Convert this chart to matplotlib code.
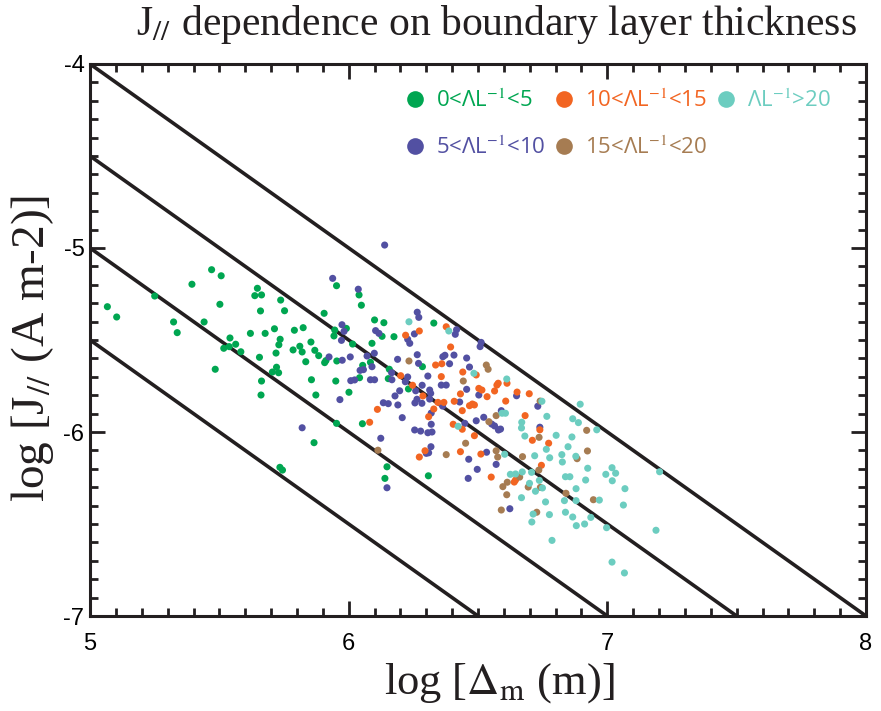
import matplotlib
matplotlib.use("Agg")
import matplotlib.pyplot as plt
from matplotlib.lines import Line2D
from matplotlib.ticker import MultipleLocator

plt.rcParams["axes.unicode_minus"] = False
plt.rcParams["mathtext.fontset"] = "stix"

# log of boundary layer thickness (m) and log of J// (A m-2), grouped by Lambda/L
x_0_5 = [5.067, 5.103, 5.250, 5.470, 5.507, 5.394, 5.323, 5.337, 5.441, 5.502,
         5.541, 5.563, 5.517, 5.538, 5.583, 5.484, 5.647, 5.637, 5.663, 5.659,
         5.737, 5.752, 5.620, 5.677, 5.713, 5.735, 5.730, 5.719, 5.655, 5.721,
         5.705, 5.729, 5.663, 5.661, 5.790, 5.824, 5.785, 5.811, 5.820, 5.854,
         5.869, 5.884, 5.834, 5.856, 5.873, 5.905, 5.953, 5.946, 5.943, 5.991,
         5.907, 5.912, 5.954, 5.950, 6.001, 5.953, 5.866, 5.734, 5.744, 6.040,
         6.049, 6.100, 6.136, 6.329, 6.129, 6.175, 6.015, 6.090, 6.084, 6.054,
         6.042, 6.153, 6.157, 6.285, 6.231, 6.053, 6.308, 6.148, 6.140]
y_0_5 = [-5.319, -5.375, -5.261, -5.118, -5.151, -5.197, -5.402, -5.460, -5.402, -5.306,
         -5.489, -5.523, -5.545, -5.536, -5.564, -5.659, -5.219, -5.259, -5.255, -5.342,
         -5.283, -5.341, -5.464, -5.464, -5.439, -5.496, -5.526, -5.571, -5.594, -5.648,
         -5.674, -5.678, -5.723, -5.799, -5.447, -5.433, -5.554, -5.534, -5.565, -5.511,
         -5.556, -5.585, -5.618, -5.716, -5.799, -5.355, -5.205, -5.446, -5.478, -5.437,
         -5.623, -5.612, -5.614, -5.723, -5.784, -5.953, -6.058, -6.192, -6.207, -5.255,
         -5.311, -5.391, -5.406, -5.408, -5.480, -5.482, -5.522, -5.518, -5.621, -5.638,
         -5.705, -5.710, -5.659, -5.645, -5.766, -5.955, -6.238, -6.189, -6.252]

x_5_10 = [6.139, 5.938, 5.974, 5.982, 5.972, 5.924, 5.975, 6.006, 5.966, 5.820,
          6.008, 6.037, 6.265, 6.271, 6.417, 6.412, 6.104, 6.117, 6.254, 6.228,
          6.236, 6.071, 6.099, 6.090, 6.044, 6.057, 6.023, 6.084, 6.100, 6.167,
          6.166, 6.189, 6.265, 6.270, 6.228, 6.219, 6.259, 6.284, 6.306, 6.390,
          6.364, 6.372, 6.407, 6.456, 6.467, 6.456, 6.358, 6.377, 6.313, 6.317,
          6.313, 6.264, 6.256, 6.283, 6.179, 6.197, 6.134, 6.153, 6.190, 6.363,
          6.319, 6.429, 6.503, 6.508, 6.512, 6.522, 6.553, 6.564, 6.579, 6.493,
          6.449, 6.319, 6.255, 6.278, 6.306, 6.322, 6.124, 6.318, 6.300, 6.309,
          6.464, 6.533, 6.570, 6.497, 6.462, 6.148, 6.649, 6.731, 6.590, 6.587,
          6.739, 6.623, 6.207]
y_5_10 = [-4.984, -5.165, -5.417, -5.453, -5.502, -5.592, -5.610, -5.592, -5.824, -5.977,
          -5.721, -5.224, -5.349, -5.377, -5.444, -5.469, -5.449, -5.464, -5.467, -5.496,
          -5.518, -5.587, -5.572, -5.645, -5.665, -5.661, -5.717, -5.716, -5.716, -5.716,
          -5.678, -5.605, -5.580, -5.627, -5.701, -5.727, -5.776, -5.746, -5.696, -5.629,
          -5.591, -5.583, -5.582, -5.598, -5.647, -5.768, -5.745, -5.745, -5.772, -5.790,
          -5.821, -5.822, -5.842, -5.844, -5.804, -5.776, -5.841, -5.846, -5.853, -5.859,
          -5.897, -5.837, -5.799, -5.536, -5.513, -5.920, -5.957, -5.967, -5.989, -5.939,
          -5.953, -5.958, -5.989, -5.995, -6.004, -6.000, -6.034, -6.080, -6.116, -6.113,
          -6.148, -6.110, -6.176, -6.203, -6.252, -6.303, -5.803, -5.860, -5.884, -5.984,
          -5.974, -6.417, -5.922]

x_10_15 = [6.377, 6.220, 6.273, 6.201, 6.247, 6.336, 6.360, 6.394, 6.441, 6.358,
           6.287, 6.111, 6.345, 6.368, 6.329, 6.309, 6.408, 6.439, 6.467, 6.478,
           6.486, 6.535, 6.503, 6.515, 6.564, 6.573, 6.578, 6.493, 6.404, 6.439,
           6.486, 6.081, 6.432, 6.295, 6.273, 6.511, 6.551, 6.612, 6.651, 6.698,
           6.432, 6.607, 6.739, 6.710, 6.773, 6.745, 6.645, 6.640, 6.682]
y_10_15 = [-5.428, -5.474, -5.451, -5.694, -5.746, -5.636, -5.629, -5.538, -5.674, -5.699,
           -5.804, -5.877, -5.839, -5.839, -5.875, -5.917, -5.833, -5.884, -5.857, -5.848,
           -5.853, -5.808, -5.763, -5.772, -5.777, -5.745, -5.735, -5.690, -5.958, -5.985,
           -6.020, -5.947, -6.107, -6.102, -6.136, -6.120, -6.245, -5.735, -5.783, -5.792,
           -5.793, -5.832, -5.988, -6.045, -6.061, -6.181, -6.261, -6.272, -5.911]

x_15_20 = [6.233, 6.443, 6.532, 6.539, 6.570, 6.542, 6.452, 6.377, 6.570, 6.576,
           6.113, 6.740, 6.736, 6.920, 6.883, 6.923, 6.672, 6.735, 6.661, 6.613,
           6.596, 6.694, 6.741, 6.611, 6.590, 6.727, 6.840, 6.946]
y_15_20 = [-5.614, -5.723, -5.636, -5.659, -5.911, -5.944, -6.061, -6.123, -6.102, -6.136,
           -6.099, -5.832, -6.029, -5.991, -6.145, -6.103, -6.134, -6.207, -6.245, -6.273,
           -6.297, -6.299, -6.301, -6.341, -6.424, -6.436, -6.333, -6.368]

x_20 = [6.233, 6.387, 6.484, 6.423, 6.611, 6.747, 6.606, 6.593, 6.766, 6.669,
        6.668, 6.681, 6.802, 6.863, 6.866, 6.888, 6.895, 6.959, 6.848, 6.764,
        6.777, 6.824, 6.826, 6.878, 6.719, 6.603, 6.707, 6.671, 6.645, 6.625,
        6.699, 6.737, 6.749, 6.722, 6.668, 6.761, 6.713, 6.708, 6.776, 6.834,
        6.879, 6.879, 6.838, 6.855, 6.916, 6.924, 6.838, 6.866, 6.880, 6.912,
        6.936, 6.969, 6.786, 6.997, 7.018, 7.066, 6.994, 7.018, 7.032, 7.019,
        7.068, 7.062, 7.202, 7.188]
y_20 = [-5.401, -5.451, -5.681, -5.969, -5.712, -5.833, -5.898, -5.898, -5.915, -5.947,
        -5.978, -6.022, -6.018, -6.027, -5.928, -5.949, -5.849, -5.988, -6.080, -6.094,
        -6.140, -6.123, -6.163, -6.132, -6.129, -6.121, -6.219, -6.217, -6.228, -6.230,
        -6.279, -6.263, -6.304, -6.322, -6.357, -6.380, -6.446, -6.489, -6.449, -6.373,
        -6.373, -6.308, -6.243, -6.243, -6.261, -6.197, -6.436, -6.462, -6.509, -6.500,
        -6.464, -6.370, -6.589, -6.520, -6.707, -6.766, -6.230, -6.194, -6.224, -6.265,
        -6.308, -6.397, -6.216, -6.534]

# reference lines of slope -1, given by their value at log(Delta) = 5
line_offsets = [-4.0, -4.5, -5.0, -5.5]

groups = [
    ("0<ΛL$^{-1}$<5", x_0_5, y_0_5, "#00a651"),
    ("5<ΛL$^{-1}$<10", x_5_10, y_5_10, "#5250a2"),
    ("10<ΛL$^{-1}$<15", x_10_15, y_10_15, "#f26522"),
    ("15<ΛL$^{-1}$<20", x_15_20, y_15_20, "#a67c52"),
    ("ΛL$^{-1}$>20", x_20, y_20, "#6ccdc0"),
]

ink = "#231f20"
serif = "Liberation Serif"

fig = plt.figure(figsize=(8.81, 7.11), dpi=100)
ax = fig.add_axes([0.1022, 0.1336, 0.8808, 0.7764])

for label, xs, ys, color in groups:
    ax.scatter(xs, ys, s=26, color=color, edgecolors="none", zorder=3)

x0, x1 = 5.0, 8.0
for offset in line_offsets:
    ax.plot([x0, x1], [offset, offset - (x1 - x0)], color=ink, lw=2.6,
            solid_capstyle="butt", zorder=2)

ax.set_xlim(5, 8)
ax.set_ylim(-7, -4)
ax.xaxis.set_major_locator(MultipleLocator(1))
ax.xaxis.set_minor_locator(MultipleLocator(0.1))
ax.yaxis.set_major_locator(MultipleLocator(1))
ax.yaxis.set_minor_locator(MultipleLocator(0.1))

for spine in ax.spines.values():
    spine.set_linewidth(2.2)
    spine.set_color(ink)
ax.tick_params(which="both", direction="in", top=True, right=True,
               width=2.0, color=ink)
ax.tick_params(which="major", length=11)
ax.tick_params(which="minor", length=5.5)
ax.tick_params(axis="x", pad=12)
ax.tick_params(axis="y", pad=4)
for tick in ax.get_xticklabels() + ax.get_yticklabels():
    tick.set_fontfamily("Liberation Sans")
    tick.set_fontsize(17)

# Legend: two rows, text coloured like the markers
handles = [Line2D([], [], ls="none", marker="o", markersize=12,
                  markerfacecolor=c, markeredgecolor="none")
           for _, _, _, c in groups]
labels = [g[0] for g in groups]
ax.legend(handles, labels, ncol=3, loc="upper right",
          bbox_to_anchor=(0.955, 0.954), frameon=False,
          prop={"family": "Open Sans", "size": 16},
          labelcolor=[g[3] for g in groups],
          handlelength=0.8, handletextpad=0.55, columnspacing=0.45,
          labelspacing=1.1, borderpad=0, borderaxespad=0)

fig.text(496 / 881, 1 - 25 / 711, r"J$_{//}$ dependence on boundary layer thickness",
         ha="center", va="center", fontsize=30, family=serif, color=ink)
fig.text(499 / 881, 1 - 683 / 711, r"log [$\Delta_\mathrm{m}$ (m)]",
         ha="center", va="center", fontsize=32, family=serif, color=ink)
fig.text(33 / 881, 1 - 348 / 711, r"log [J$_{//}$ (A m-2)]", rotation=90,
         ha="center", va="center", fontsize=34, family=serif, color=ink)

fig.savefig("out.png", dpi=100)
